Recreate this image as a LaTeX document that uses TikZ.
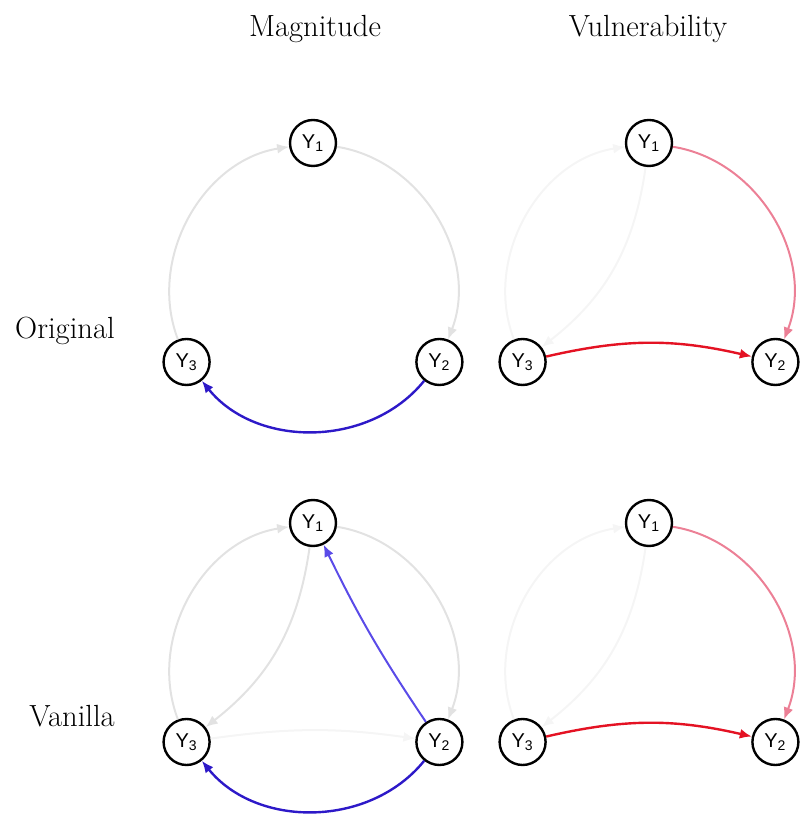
\documentclass[tikz,border=0pt]{standalone}
\usepackage{fontspec}
\usepackage{tikz}
\usetikzlibrary{arrows.meta}
\newfontfamily\nodefont{Liberation Sans}
\definecolor{edgegray}{RGB}{226,226,226}
\definecolor{fadegray}{RGB}{245,245,245}
\definecolor{magblue}{RGB}{45,25,200}
\definecolor{magblueb}{RGB}{90,75,232}
\definecolor{vulred}{RGB}{228,18,35}
\definecolor{vulpink}{RGB}{236,128,150}

\begin{document}
\begin{tikzpicture}[
  x=0.5pt, y=0.5pt, >={Latex[length=6pt,width=5pt]},
  var/.style={draw, circle, line width=1.2pt, minimum size=23pt, inner sep=0pt,
              font=\nodefont\fontsize{10}{11}\selectfont},
  head/.style={font=\fontsize{15.3}{18}\selectfont},
  edge/.style={->, line width=1pt},
  ring/.style={edge, looseness=1},
  ringleft/.style={ring, out=111, in=189},
  ringright/.style={ring, out=-9, in=69},
  ringlow/.style={ring, out=231, in=-51}
]
\useasboundingbox (0,0) rectangle (800,814);

\node[head] (hmag) at (315,785) {Magnitude};
\node[head] (hvul) at (648,785) {Vulnerability};
\node[head] (horig) at (65,483) {Original};
\node[head] (hvan) at (72,98) {Vanilla};

% original, magnitude
\node[var] (mo1) at (313,671) {Y\textsubscript{1}};
\node[var] (mo2) at (439.4,452) {Y\textsubscript{2}};
\node[var] (mo3) at (186.6,452) {Y\textsubscript{3}};
\draw[ringleft, edgegray] (mo3) to (mo1);
\draw[ringright, edgegray] (mo1) to (mo2);
\draw[ringlow, magblue, line width=1.2pt] (mo2) to (mo3);

% original, vulnerability
\node[var] (vo1) at (649,671) {Y\textsubscript{1}};
\node[var] (vo2) at (775.4,452) {Y\textsubscript{2}};
\node[var] (vo3) at (522.6,452) {Y\textsubscript{3}};
\draw[ringleft, fadegray] (vo3) to (vo1);
\draw[edge, fadegray, bend left=22] (vo1) to (vo3);
\draw[ringright, vulpink] (vo1) to (vo2);
\draw[edge, vulred, line width=1.2pt, bend left=13] (vo3) to (vo2);

% vanilla, magnitude
\node[var] (mv1) at (313,291) {Y\textsubscript{1}};
\node[var] (mv2) at (439.4,72) {Y\textsubscript{2}};
\node[var] (mv3) at (186.6,72) {Y\textsubscript{3}};
\draw[ringleft, edgegray] (mv3) to (mv1);
\draw[ringright, edgegray] (mv1) to (mv2);
\draw[edge, edgegray, bend left=22] (mv1) to (mv3);
\draw[edge, fadegray, bend left=8] (mv3) to (mv2);
\draw[edge, magblueb, bend left=4] (mv2) to (mv1);
\draw[ringlow, magblue, line width=1.2pt] (mv2) to (mv3);

% vanilla, vulnerability
\node[var] (vv1) at (649,291) {Y\textsubscript{1}};
\node[var] (vv2) at (775.4,72) {Y\textsubscript{2}};
\node[var] (vv3) at (522.6,72) {Y\textsubscript{3}};
\draw[ringleft, fadegray] (vv3) to (vv1);
\draw[edge, fadegray, bend left=22] (vv1) to (vv3);
\draw[ringright, vulpink] (vv1) to (vv2);
\draw[edge, vulred, line width=1.2pt, bend left=13] (vv3) to (vv2);
\end{tikzpicture}
\end{document}
